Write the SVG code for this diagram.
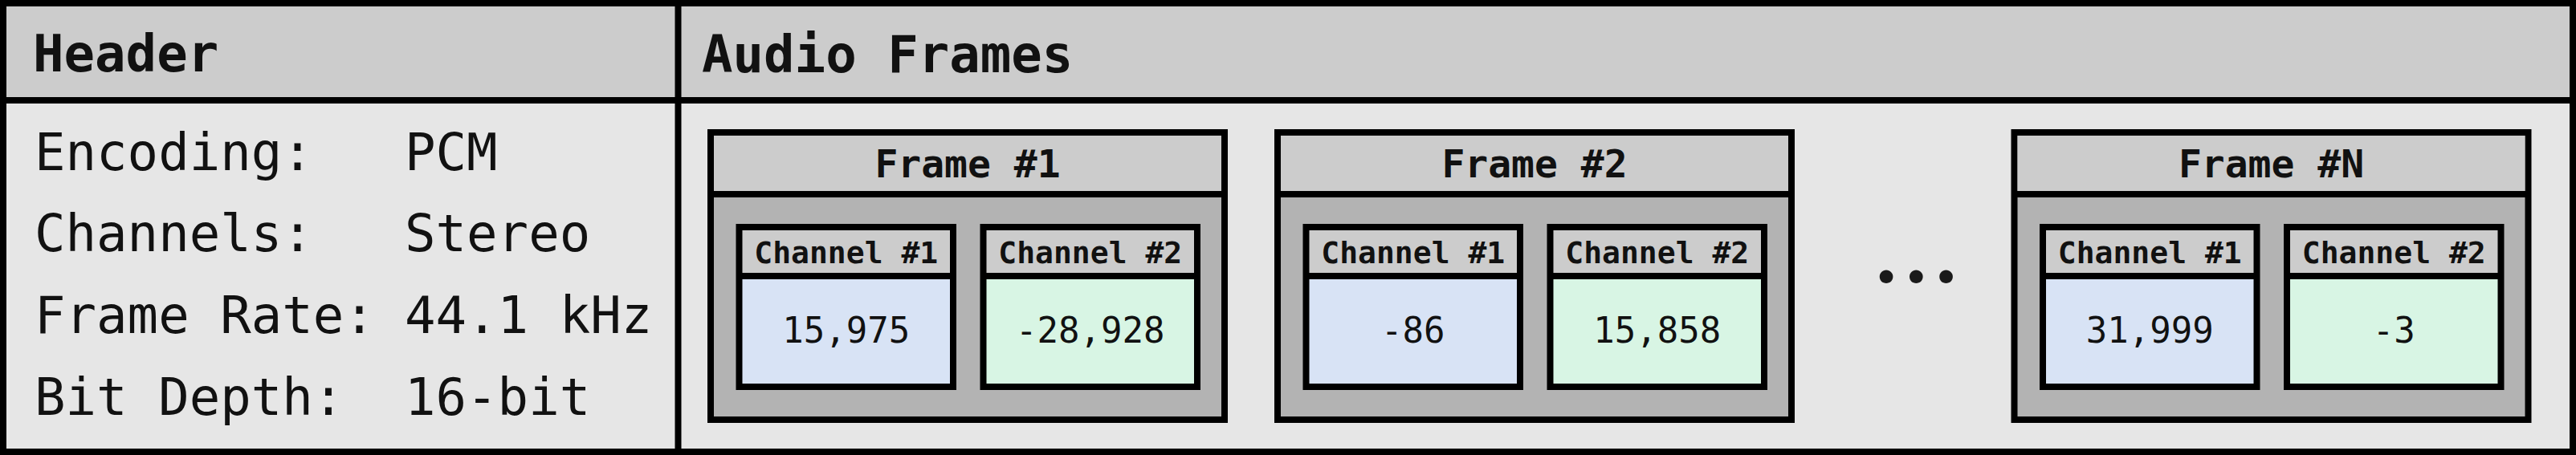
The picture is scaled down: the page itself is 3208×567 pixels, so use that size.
<svg xmlns="http://www.w3.org/2000/svg" width="3208" height="567" viewBox="0 0 3208 567">
<style>
.t{font-family:"DejaVu Sans Mono","Liberation Mono",monospace;fill:#111}
.b{font-weight:bold}
.big{font-size:64px}
.ft{font-size:48px;font-weight:bold;text-anchor:middle}
.ct{font-size:38px;font-weight:bold;text-anchor:middle}
.v{font-size:44px;text-anchor:middle}
.ln{stroke:#000;stroke-width:8;fill:none}
.frame{fill:#b3b3b3;stroke:#000;stroke-width:8}
.bar{fill:#cccccc}
.c1{fill:#d8e3f5}
.c2{fill:#d8f5e4}
.dots{font-family:Lato,"Noto Sans",sans-serif;font-weight:bold;font-size:110px;fill:#1a1a1a}
</style>
<defs>
<g id="frameShape">
<rect x="0" y="0" width="640" height="358" class="frame"/>
<rect x="4" y="4" width="632" height="73" class="bar"/>
<line x1="0" y1="77" x2="640" y2="77" class="ln"/>
<rect x="35.5" y="118" width="266.5" height="199" class="c1"/>
<rect x="35.5" y="118" width="266.5" height="61" class="bar"/>
<rect x="35.5" y="118" width="266.5" height="199" class="ln"/>
<line x1="35.5" y1="179" x2="302" y2="179" class="ln"/>
<rect x="339.5" y="118" width="266.5" height="199" class="c2"/>
<rect x="339.5" y="118" width="266.5" height="61" class="bar"/>
<rect x="339.5" y="118" width="266.5" height="199" class="ln"/>
<line x1="339.5" y1="179" x2="606" y2="179" class="ln"/>
</g>
</defs>
<g id="background">
<rect x="4" y="4" width="3200" height="559" fill="#e6e6e6"/>
<rect x="4" y="4" width="3200" height="121" class="bar"/>
<line x1="0" y1="125" x2="3208" y2="125" class="ln"/>
<line x1="844.5" y1="0" x2="844.5" y2="567" class="ln"/>
<rect x="4" y="4" width="3200" height="559" class="ln"/>
</g>
<g id="header">
<text x="41" y="89" class="t b big">Header</text>
<text x="43" y="212" class="t big">Encoding:</text>
<text x="504" y="212" class="t big">PCM</text>
<text x="43" y="313" class="t big">Channels:</text>
<text x="504" y="313" class="t big">Stereo</text>
<text x="43" y="415" class="t big">Frame Rate:</text>
<text x="504" y="415" class="t big">44.1 kHz</text>
<text x="43" y="517" class="t big">Bit Depth:</text>
<text x="504" y="517" class="t big">16-bit</text>
</g>
<g id="audio-frames">
<text x="874" y="90" class="t b big">Audio Frames</text>
</g>
<g id="frame-1" transform="translate(885,165)">
<use href="#frameShape"/>
<text x="320" y="56" class="t ft">Frame #1</text>
<text x="168.75" y="163" class="t ct">Channel #1</text>
<text x="472.75" y="163" class="t ct">Channel #2</text>
<text x="168.75" y="262" class="t v">15,975</text>
<text x="472.75" y="262" class="t v">-28,928</text>
</g>
<g id="frame-2" transform="translate(1591,165)">
<use href="#frameShape"/>
<text x="320" y="56" class="t ft">Frame #2</text>
<text x="168.75" y="163" class="t ct">Channel #1</text>
<text x="472.75" y="163" class="t ct">Channel #2</text>
<text x="168.75" y="262" class="t v">-86</text>
<text x="472.75" y="262" class="t v">15,858</text>
</g>
<g id="ellipsis">
<text x="2336" y="352" class="dots"><tspan x="2336">.</tspan><tspan x="2373.3">.</tspan><tspan x="2410.6">.</tspan></text>
</g>
<g id="frame-n" transform="translate(2508.5,165)">
<use href="#frameShape"/>
<text x="320" y="56" class="t ft">Frame #N</text>
<text x="168.75" y="163" class="t ct">Channel #1</text>
<text x="472.75" y="163" class="t ct">Channel #2</text>
<text x="168.75" y="262" class="t v">31,999</text>
<text x="472.75" y="262" class="t v">-3</text>
</g>
<g id="connectors"/>
</svg>
